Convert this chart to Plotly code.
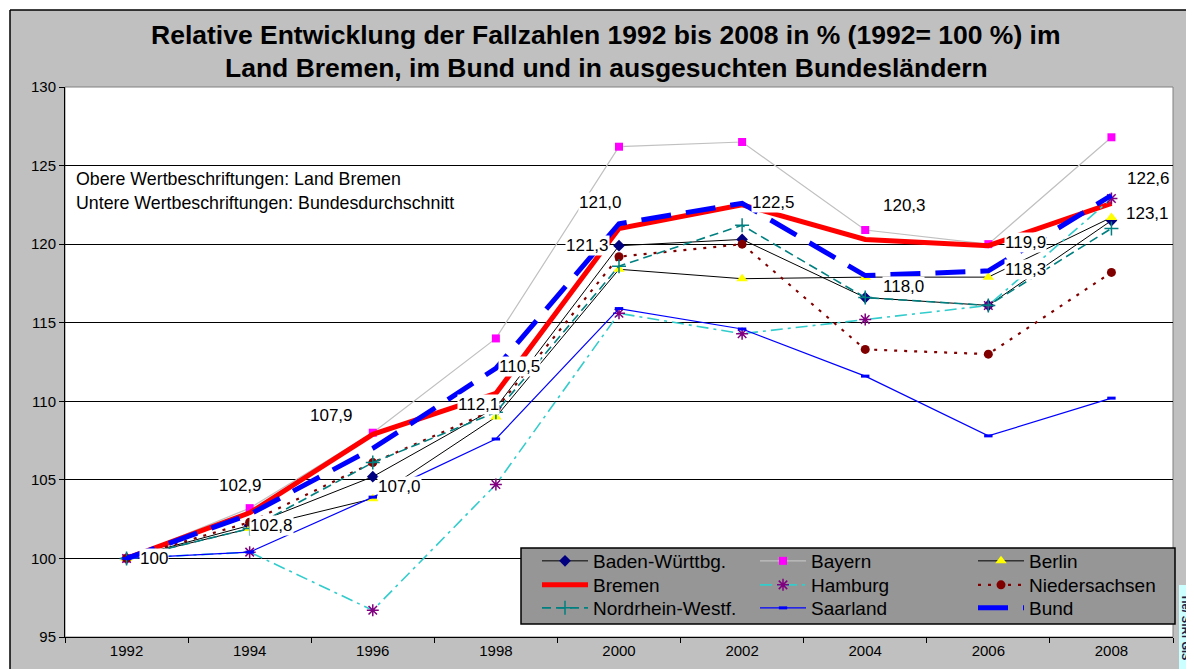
import plotly.graph_objects as go

# ---------------- data ----------------
years = ["1992", "1994", "1996", "1998", "2000", "2002", "2004", "2006", "2008"]

baden_wuerttemberg = [100, 102.1, 105.2, 109.6, 119.9, 120.3, 116.6, 116.1, 121.5]
bayern = [100, 103.2, 108.0, 114.0, 126.2, 126.5, 120.9, 120.0, 126.8]
berlin = [100, 101.9, 103.8, 109.0, 118.4, 117.8, 117.9, 117.9, 121.7]
bremen = [100, 102.9, 107.9, 110.5, 121.0, 122.5, 120.3, 119.9, 122.6]
hamburg = [100, 100.4, 96.7, 104.7, 115.6, 114.3, 115.2, 116.1, 122.9]
niedersachsen = [100, 102.3, 106.1, 109.5, 119.2, 120.0, 113.3, 113.0, 118.2]
nordrhein_westfalen = [100, 101.9, 106.1, 109.3, 118.6, 121.2, 116.6, 116.1, 121.0]
saarland = [100, 100.4, 103.9, 107.6, 115.9, 114.6, 111.6, 107.8, 110.2]
bund = [100, 102.8, 107.0, 112.1, 121.3, 122.6, 118.0, 118.3, 123.1]

title_lines = [
    "Relative Entwicklung der Fallzahlen 1992 bis 2008 in % (1992= 100 %) im",
    "Land Bremen, im Bund und in ausgesuchten Bundesländern",
]
note_lines = [
    "Obere Wertbeschriftungen: Land Bremen",
    "Untere Wertbeschriftungen: Bundesdurchschnitt",
]
stamp_text = "Tie/ SfRf GIS"

# label placement (pixel offsets from the data point) - style only
bremen_label_shift = {"1992": (27, 0), "1994": (-9, 27), "1996": (-41, 19), "1998": (24, 27),
                      "2000": (-19, 26), "2002": (31, 2), "2004": (39, 34), "2006": (37, 3),
                      "2008": (37, 25)}
bund_label_shift = {"1994": (22, -11), "1996": (27, -38), "1998": (-17, -36), "2000": (-32, -22),
                    "2004": (38, -11), "2006": (37, 1), "2008": (36, -18)}

# ---------------- layout helpers ----------------
OFF = 8                      # page (body) margin in front of the figure
W, H = 1194 - OFF, 669 - OFF
ML, MT = 65 - OFF, 87 - OFF
MR = W - (1173 - OFF)
MB = H - (637 - OFF)
PW, PH = W - ML - MR, H - MT - MB


def px2x(px):
    """screen x (reference pixel) -> paper fraction"""
    return (px - OFF - ML) / PW


def px2y(py):
    """screen y (reference pixel) -> paper fraction"""
    return (H - MB - (py - OFF)) / PH


FONT = "Liberation Sans, Arial, sans-serif"

fig = go.Figure()

series = [
    ("Baden-Württbg.", baden_wuerttemberg, dict(color="black", width=1),
     dict(symbol="diamond", color="#000080", size=9), "legend"),
    ("Bayern", bayern, dict(color="#c0c0c0", width=1.2),
     dict(symbol="square", color="#ff00ff", size=8), "legend"),
    ("Berlin", berlin, dict(color="black", width=1),
     dict(symbol="triangle-up", color="#ffff00", size=10), "legend"),
    ("Bremen", bremen, dict(color="#ff0000", width=5), None, "legend2"),
    ("Hamburg", hamburg, dict(color="#33cccc", width=1.6, dash="12px,5px,3px,5px"),
     dict(symbol="asterisk-open", size=10, color="#800080", line=dict(color="#800080", width=1.5)),
     "legend2"),
    ("Niedersachsen", niedersachsen, dict(color="#800000", width=2.2, dash="3px,7px"),
     dict(symbol="circle", color="#800000", size=9), "legend2"),
    ("Nordrhein-Westf.", nordrhein_westfalen, dict(color="#008080", width=1.6, dash="9px,5px"),
     dict(symbol="cross-thin-open", size=10, color="#008080", line=dict(color="#008080", width=1.5)),
     "legend3"),
    ("Saarland", saarland, dict(color="#0000ff", width=1.2),
     dict(symbol="line-ew-open", size=6, color="#0000ff", line=dict(color="#0000ff", width=3)),
     "legend3"),
    ("Bund", bund, dict(color="#0000ff", width=5, dash="30px,15px"), None, "legend3"),
]

for name, vals, line, marker, leg in series:
    fig.add_trace(go.Scatter(
        x=years, y=vals, name=name,
        mode="lines+markers" if marker else "lines",
        line=line, marker=marker if marker else None,
        legend=leg, hoverinfo="skip",
    ))


def fmt(i, v):
    return "100" if i == 0 else f"{v:.1f}".replace(".", ",")


def add_labels(values, shifts):
    for i, (yr, v) in enumerate(zip(years, values)):
        if yr in shifts:
            dx, dy = shifts[yr]
            fig.add_annotation(x=i, y=v, text=fmt(i, v), xref="x", yref="y",
                               xshift=dx, yshift=dy, showarrow=False,
                               bgcolor="white", borderpad=0,
                               font=dict(family=FONT, size=17, color="black"))


add_labels(bremen, bremen_label_shift)
add_labels(bund, bund_label_shift)

# title lines
for txt, py in zip(title_lines, [35, 68]):
    fig.add_annotation(x=px2x(606), y=px2y(py), xref="paper", yref="paper",
                       text=f"<b>{txt}</b>", showarrow=False,
                       xanchor="center", yanchor="middle",
                       font=dict(family=FONT, size=26.5, color="black"))

# note lines
for txt, py in zip(note_lines, [179, 203]):
    fig.add_annotation(x=px2x(74), y=px2y(py), xref="paper", yref="paper",
                       text=txt, showarrow=False, xanchor="left", yanchor="middle",
                       font=dict(family=FONT, size=17.8, color="black"))

# side stamp
fig.add_annotation(x=px2x(1186), y=px2y(627), xref="paper", yref="paper",
                   text=f"<b>{stamp_text}</b>", showarrow=False, textangle=90,
                   xanchor="center", yanchor="middle",
                   font=dict(family=FONT, size=11, color="#202040"))

shapes = [
    # white outer margins + frame line
    dict(type="rect", xref="paper", yref="paper", x0=px2x(0), x1=px2x(10), y0=px2y(700), y1=px2y(0),
         fillcolor="white", line=dict(width=0), layer="below"),
    dict(type="rect", xref="paper", yref="paper", x0=px2x(0), x1=px2x(1300), y0=px2y(10), y1=px2y(0),
         fillcolor="white", line=dict(width=0), layer="below"),
    dict(type="line", xref="paper", yref="paper", x0=px2x(10), x1=px2x(1300), y0=px2y(10), y1=px2y(10),
         line=dict(color="black", width=1.5)),
    dict(type="line", xref="paper", yref="paper", x0=px2x(10), x1=px2x(10), y0=px2y(10), y1=px2y(700),
         line=dict(color="black", width=1.5)),
    # plot area frame
    dict(type="rect", xref="paper", yref="paper", x0=0, x1=1, y0=0, y1=1,
         line=dict(color="#808080", width=1), fillcolor="rgba(0,0,0,0)", layer="below"),
    # legend box
    dict(type="rect", xref="paper", yref="paper", x0=px2x(521), x1=px2x(1175),
         y0=px2y(624), y1=px2y(548), fillcolor="#969696", line=dict(color="black", width=1.5)),
    # stamp box
    dict(type="rect", xref="paper", yref="paper", x0=px2x(1179), x1=px2x(1200),
         y0=px2y(700), y1=px2y(585), fillcolor="#ccffff", line=dict(width=0)),
]

leg_common = dict(orientation="h", bgcolor="rgba(0,0,0,0)", borderwidth=0,
                  font=dict(family=FONT, size=19, color="black"),
                  entrywidth=157, entrywidthmode="pixels", itemwidth=46,
                  xanchor="left", yanchor="middle", x=px2x(537), tracegroupgap=0)

fig.update_layout(
    width=W, height=H,
    margin=dict(l=ML, r=MR, t=MT, b=MB, autoexpand=False),
    paper_bgcolor="#c0c0c0", plot_bgcolor="white",
    font=dict(family=FONT, size=15, color="black"),
    showlegend=True,
    legend=dict(**leg_common, y=px2y(561)),
    legend2=dict(**leg_common, y=px2y(585)),
    legend3=dict(**leg_common, y=px2y(608)),
    shapes=shapes,
    xaxis=dict(type="category", range=[-0.5, 8.5], tickson="boundaries",
               ticks="outside", ticklen=5, tickcolor="black", showline=True,
               linecolor="black", linewidth=1, showgrid=False,
               tickfont=dict(family=FONT, size=15, color="black")),
    yaxis=dict(range=[95, 130], dtick=5, ticks="outside", ticklen=5, tickcolor="black",
               showline=True, linecolor="black", linewidth=1, showgrid=True,
               gridcolor="black", gridwidth=1, zeroline=False,
               tickfont=dict(family=FONT, size=15, color="black")),
)

fig.write_html("out.html", config={"displayModeBar": False})
